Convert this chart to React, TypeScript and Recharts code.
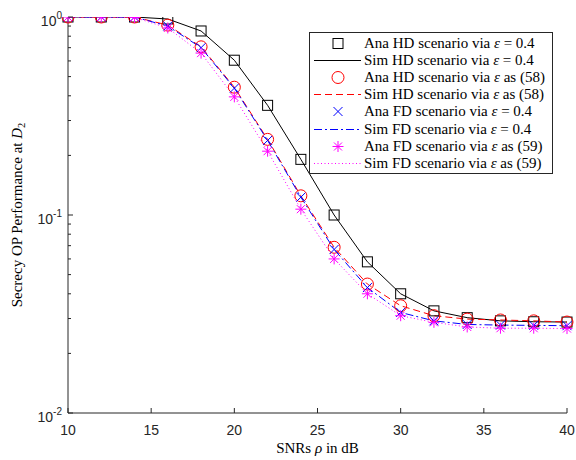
import React from 'react'
import { Legend, Line, LineChart, XAxis, YAxis } from 'recharts'

// SNR grid (dB)
const snr = [10, 12, 14, 16, 18, 20, 22, 24, 26, 28, 30, 32, 34, 36, 38, 40]

// secrecy OP, HD with eps = 0.4
const hdFixed = [1, 1, 1, 0.977, 0.85, 0.605, 0.358, 0.191, 0.1, 0.058, 0.04, 0.0328, 0.0303, 0.0292, 0.0289, 0.0288]
// HD with eps as (58)
const hdOpt = [1, 1, 1, 0.91, 0.707, 0.442, 0.241, 0.125, 0.0687, 0.0448, 0.0348, 0.031, 0.0298, 0.0295, 0.0292, 0.0288]
// FD with eps = 0.4
const fdFixed = [1, 1, 1, 0.9, 0.7, 0.437, 0.238, 0.123, 0.067, 0.043, 0.0322, 0.0292, 0.028, 0.0278, 0.0277, 0.0276]
// FD with eps as (59)
const fdOpt = [1, 1, 0.995, 0.88, 0.657, 0.395, 0.21, 0.107, 0.06, 0.04, 0.031, 0.0287, 0.0272, 0.0268, 0.0268, 0.0267]

const xTicks = [10, 15, 20, 25, 30, 35, 40]
const yTicks = [
  0.01, 0.02, 0.03, 0.04, 0.05, 0.06, 0.07, 0.08, 0.09,
  0.1, 0.2, 0.3, 0.4, 0.5, 0.6, 0.7, 0.8, 0.9, 1,
]

const data = snr.map((s, i) => ({
  snr: s,
  hdFixed: hdFixed[i],
  hdOpt: hdOpt[i],
  fdFixed: fdFixed[i],
  fdOpt: fdOpt[i],
}))

const AXIS = '#262626'
const SANS = 'Liberation Sans, Arial, sans-serif'
const SERIF = 'Liberation Serif, Times New Roman, serif'

const isMajor = (v: number) => Math.abs(Math.log10(v) - Math.round(Math.log10(v))) < 1e-6

const BottomTick = ({ x, y, payload }: any) => (
  <g>
    <line x1={x} x2={x} y1={y} y2={y - 5} stroke={AXIS} />
    <text x={x} y={y + 22} textAnchor="middle" fontFamily={SANS} fontSize={14} fill={AXIS}>
      {payload.value}
    </text>
  </g>
)

const TopTick = ({ x, y }: any) => <line x1={x} x2={x} y1={y} y2={y + 5} stroke={AXIS} />

const LeftTick = ({ x, y, payload }: any) => {
  const v = payload.value
  const major = isMajor(v)
  const exp = Math.round(Math.log10(v))
  return (
    <g>
      <line x1={x} x2={x + (major ? 5 : 3)} y1={y} y2={y} stroke={AXIS} />
      {major && (
        <text x={x - 6} y={y + 9} textAnchor="end" fontFamily={SANS} fontSize={14} fill={AXIS}>
          10
          <tspan fontSize={10} dy={-7}>
            {exp}
          </tspan>
        </text>
      )}
    </g>
  )
}

const RightTick = ({ x, y, payload }: any) => (
  <line x1={x} x2={x - (isMajor(payload.value) ? 5 : 3)} y1={y} y2={y} stroke={AXIS} />
)

const Square = ({ cx, cy }: any) => <rect x={cx - 5} y={cy - 5} width={10} height={10} fill="none" stroke="#000" />
const Circle = ({ cx, cy }: any) => <circle cx={cx} cy={cy} r={6} fill="none" stroke="#ff0000" />
const Cross = ({ cx, cy }: any) => (
  <path d={`M${cx - 4.5},${cy - 4.5}L${cx + 4.5},${cy + 4.5}M${cx - 4.5},${cy + 4.5}L${cx + 4.5},${cy - 4.5}`} stroke="#0000ff" />
)
const Star = ({ cx, cy }: any) => (
  <path
    d={`M${cx - 5.5},${cy}L${cx + 5.5},${cy}M${cx},${cy - 5.5}L${cx},${cy + 5.5}M${cx - 4},${cy - 4}L${cx + 4},${cy + 4}M${cx - 4},${cy + 4}L${cx + 4},${cy - 4}`}
    stroke="#ff00ff"
  />
)

const dotOf = (Shape: any) => (p: any) => <Shape key={`d${p.index}`} cx={p.cx} cy={p.cy} />

const Eps = () => <i>ε</i>

const legendRows: { marker?: any; dash?: string; color: string; label: React.ReactNode }[] = [
  { marker: Square, color: '#000', label: <>Ana HD scenario via <Eps /> = 0.4</> },
  { dash: '', color: '#000', label: <>Sim HD scenario via <Eps /> = 0.4</> },
  { marker: Circle, color: '#ff0000', label: <>Ana HD scenario via <Eps /> as (58)</> },
  { dash: '7 4', color: '#ff0000', label: <>Sim HD scenario via <Eps /> as (58)</> },
  { marker: Cross, color: '#0000ff', label: <>Ana FD scenario via <Eps /> = 0.4</> },
  { dash: '8 3 2 3', color: '#0000ff', label: <>Sim FD scenario via <Eps /> = 0.4</> },
  { marker: Star, color: '#ff00ff', label: <>Ana FD scenario via <Eps /> as (59)</> },
  { dash: '1 2.5', color: '#ff00ff', label: <>Sim FD scenario via <Eps /> as (59)</> },
]

const LegendBox = () => (
  <div
    style={{
      border: `1px solid ${AXIS}`,
      background: '#fff',
      width: 244,
      height: 142,
      boxSizing: 'border-box',
      paddingTop: 2,
      fontFamily: SERIF,
      fontSize: 15,
      color: '#000',
    }}
  >
    {legendRows.map((r, i) => (
      <div key={i} style={{ display: 'flex', alignItems: 'center', height: 17.1, whiteSpace: 'nowrap' }}>
        <svg width={54} height={17} style={{ flex: 'none' }}>
          {r.marker ? (
            <r.marker cx={28} cy={8.5} />
          ) : (
            <line x1={4} x2={51} y1={8.5} y2={8.5} stroke={r.color} strokeDasharray={r.dash || undefined} />
          )}
        </svg>
        <span>{r.label}</span>
      </div>
    ))}
  </div>
)

const XTitle = ({ viewBox }: any) => (
  <text x={viewBox.x + viewBox.width / 2} y={viewBox.y + 40} textAnchor="middle" fontFamily={SERIF} fontSize={15} fill="#000">
    SNRs <tspan fontStyle="italic">ρ</tspan> in dB
  </text>
)

const YTitle = ({ viewBox }: any) => {
  const cx = 17
  const cy = viewBox.y + viewBox.height / 2
  return (
    <text
      x={cx}
      y={cy}
      transform={`rotate(-90 ${cx} ${cy})`}
      textAnchor="middle"
      dominantBaseline="central"
      fontFamily={SERIF}
      fontSize={15}
      fill="#000"
    >
      Secrecy OP Performance at <tspan fontStyle="italic">D</tspan>
      <tspan fontSize={10.5} dy={4}>2</tspan>
    </text>
  )
}

export default function App() {
  return (
    <div style={{ position: 'absolute', left: 0, top: 0, width: 576, height: 460, background: '#fff' }}>
      <LineChart width={576} height={460} data={data} margin={{ top: 17, right: 9, bottom: 0, left: 0 }}>
        <XAxis
          xAxisId="b"
          dataKey="snr"
          type="number"
          domain={[10, 40]}
          ticks={xTicks}
          interval={0}
          height={47}
          tickSize={0}
          tickMargin={0}
          tickLine={false}
          axisLine={{ stroke: AXIS }}
          tick={<BottomTick />}
          label={{ content: XTitle }}
        />
        <XAxis
          xAxisId="t"
          orientation="top"
          dataKey="snr"
          type="number"
          domain={[10, 40]}
          ticks={xTicks}
          interval={0}
          height={0}
          tickSize={0}
          tickMargin={0}
          tickLine={false}
          axisLine={{ stroke: AXIS }}
          tick={<TopTick />}
        />
        <YAxis
          yAxisId="l"
          scale="log"
          domain={[0.01, 1]}
          allowDataOverflow
          ticks={yTicks}
          interval={0}
          width={68}
          tickSize={0}
          tickMargin={0}
          tickLine={false}
          axisLine={{ stroke: AXIS }}
          tick={<LeftTick />}
          label={{ content: YTitle }}
        />
        <YAxis
          yAxisId="r"
          orientation="right"
          scale="log"
          domain={[0.01, 1]}
          allowDataOverflow
          ticks={yTicks}
          interval={0}
          width={0}
          tickSize={0}
          tickMargin={0}
          tickLine={false}
          axisLine={{ stroke: AXIS }}
          tick={<RightTick />}
        />
        <Line xAxisId="b" yAxisId="l" dataKey="hdFixed" type="linear" stroke="#000" strokeWidth={1} dot={dotOf(Square)} isAnimationActive={false} />
        <Line xAxisId="b" yAxisId="l" dataKey="hdOpt" type="linear" stroke="#ff0000" strokeWidth={1} strokeDasharray="7 4" dot={dotOf(Circle)} isAnimationActive={false} />
        <Line xAxisId="b" yAxisId="l" dataKey="fdFixed" type="linear" stroke="#0000ff" strokeWidth={1} strokeDasharray="8 3 2 3" dot={dotOf(Cross)} isAnimationActive={false} />
        <Line xAxisId="b" yAxisId="l" dataKey="fdOpt" type="linear" stroke="#ff00ff" strokeWidth={1} strokeDasharray="1 2.5" dot={dotOf(Star)} isAnimationActive={false} />
        <Legend
          layout="vertical"
          align="center"
          verticalAlign="middle"
          content={<LegendBox />}
          wrapperStyle={{ left: 309, top: 32, width: 244, height: 142 }}
        />
      </LineChart>
    </div>
  )
}
